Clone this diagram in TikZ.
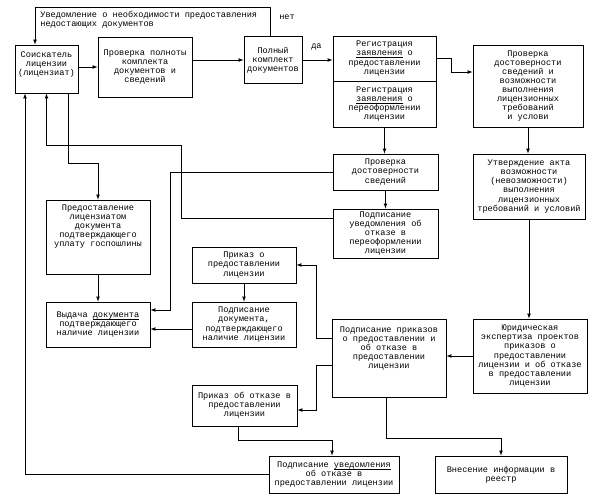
\documentclass[tikz,border=0pt]{standalone}
\usepackage{fontspec}
\newfontfamily\courfont{Liberation Mono}
\usetikzlibrary{arrows, calc, positioning}
\newcommand\ulword[1]{\underline{\smash{#1}}}

\begin{document}
\begin{tikzpicture}[>=latex, line width=0.7pt,
    box/.style={draw, line width=0.9pt, align=center, inner sep=1pt, font=\courfont\fontsize{8.6}{9.1}\selectfont},
    note/.style={inner sep=0pt, align=left, font=\courfont\fontsize{8.6}{9.1}\selectfont}]
    \useasboundingbox (-46.5pt,69pt) rectangle (549.5pt,-433pt);

    % top row
    \node[box, minimum width=63pt, minimum height=48pt] (soisk) {Соискатель\\лицензии\\(лицензиат)\\[2pt]\mbox{}};
    \node[box, right of=soisk, node distance=98.5pt, yshift=2pt, minimum width=94pt, minimum height=60pt] (proverka) {Проверка полноты\\комплекта\\документов и\\сведений};
    \node[box, right of=proverka, node distance=128pt, yshift=7pt, minimum width=58pt, minimum height=47pt] (polny) {Полный\\комплект\\документов};
    \node[box, right of=polny, node distance=111.5pt, yshift=1.5pt, minimum width=103pt, minimum height=45pt] (regpred) {Регистрация\\\ulword{заявления} о\\предоставлении\\лицензии};
    \node[box, below of=regpred, node distance=45.5pt, minimum width=103pt, minimum height=46pt] (regpere) {Регистрация\\\ulword{заявления} о\\переоформлении\\лицензии};
    \node[box, right of=regpred, node distance=143.5pt, yshift=-27.5pt, minimum width=110pt, minimum height=82pt] (dostvozm) {Проверка\\достоверности\\сведений и\\возможности\\выполнения\\лицензионных\\требований\\и услови};

    % middle
    \node[box, below of=regpere, node distance=68pt, xshift=1pt, minimum width=105pt, minimum height=36pt] (dostsved) {Проверка\\достоверности\\сведений};
    \node[box, below of=dostsved, node distance=61.5pt, minimum width=105pt, minimum height=49pt] (otkazpere) {Подписание\\уведомления об\\отказе в\\переоформлении\\лицензии};
    \node[box, below of=dostvozm, node distance=100.5pt, xshift=1pt, minimum width=112pt, minimum height=65pt] (akt) {Утверждение акта\\возможности\\(невозможности)\\выполнения\\лицензионных\\требований и условий};
    \node[box, below of=soisk, node distance=168pt, xshift=51.5pt, minimum width=104pt, minimum height=74pt] (gosposhl) {Предоставление\\лицензиатом\\документа\\подтверждающего\\уплату госпошлины\\[13pt]\mbox{}};
    \node[box, below of=gosposhl, node distance=87.5pt, minimum width=104pt, minimum height=45pt] (vydacha) {Выдача \ulword{документа}\\подтверждающего\\наличие лицензии};
    \node[box, right of=vydacha, node distance=146pt, yshift=59.5pt, minimum width=104pt, minimum height=36pt] (prikazpred) {Приказ о\\предоставлении\\лицензии};
    \node[box, right of=vydacha, node distance=146pt, minimum width=104pt, minimum height=45pt] (podpdok) {Подписание\\документа,\\подтверждающего\\наличие лицензии};

    % bottom
    \node[box, below of=otkazpere, node distance=124.5pt, xshift=3.5pt, minimum width=114pt, minimum height=78pt] (podpprik) {Подписание приказов\\о предоставлении и\\об отказе в\\предоставлении\\лицензии\\[12pt]\mbox{}};
    \node[box, below of=akt, node distance=169.5pt, xshift=1pt, minimum width=114pt, minimum height=74pt] (jurid) {Юридическая\\экспертиза проектов\\приказов о\\предоставлении\\лицензии и об отказе\\в предоставлении\\лицензии};
    \node[box, below of=podpdok, node distance=81pt, xshift=0.5pt, minimum width=105pt, minimum height=41pt] (prikazotk) {Приказ об отказе в\\предоставлении\\лицензии};
    \node[box, below of=podpprik, node distance=116.5pt, xshift=-55pt, minimum width=130pt, minimum height=37pt] (uvedotk) {Подписание \ulword{уведомления}\\об отказе в\\предоставлении лицензии};
    \node[box, below of=podpprik, node distance=116.5pt, xshift=112pt, minimum width=132pt, minimum height=37pt] (reestr) {Внесение информации в\\реестр};

    % labels
    \node[note, anchor=north west] (uvedtext) at ($(soisk.center)+(-6.5pt,58pt)$) {Уведомление о необходимости предоставления\\недостающих документов};
    \node[note] (net) at ($(polny.north)+(14pt,18.5pt)$) {нет};
    \node[note] (da) at ($(polny.east)+(14pt,13pt)$) {да};

    % connectors
    \draw[->] ([xshift=-3pt]polny.north) |- ($(soisk.north)+(-11.5pt,37pt)$) -- ([xshift=-11.5pt]soisk.north);
    \draw[->] (soisk.east |- proverka.west) -- (proverka.west);
    \draw[->] (proverka.east |- polny.west) -- (polny.west);
    \draw[->] (polny.east) -- (polny.east -| regpred.west);
    \draw[->] (regpred.east) -- ++(15pt,0) |- ([yshift=14pt]dostvozm.west);
    \draw[->] (regpere.south) -- (regpere.south |- dostsved.north);
    \draw[->] (dostvozm.south) -- (dostvozm.south |- akt.north);
    \draw[->] (dostsved.south) -- (otkazpere.north);
    \draw[->] (dostsved.west) -- ++(-162pt,0) |- ([yshift=14.5pt]vydacha.east);
    \draw[->] ([yshift=15pt]otkazpere.west) -| ++(-151pt,73pt) -| (soisk.south);
    \draw[->] ([xshift=21.5pt]soisk.south) -- ++(0,-70pt) -| (gosposhl.north);
    \draw[->] (gosposhl.south) -- (vydacha.north);
    \draw[->] (uvedotk.west) -| ([xshift=-21.5pt]soisk.south);
    \draw[->] ([yshift=20pt]podpprik.west) -- ++(-15pt,0) |- (prikazpred.east);
    \draw[->] (prikazpred.south) -- (podpdok.north);
    \draw[->] ([yshift=-4.5pt]podpdok.west) -- ([yshift=-4.5pt]vydacha.east);
    \draw[->] (jurid.west) -- (jurid.west -| podpprik.east);
    \draw[->] (akt.south) -- (akt.south |- jurid.north);
    \draw[->] ([yshift=-7pt]podpprik.west) -- ++(-15pt,0) |- ([yshift=-4.5pt]prikazotk.east);
    \draw[->] ([xshift=-6.5pt]prikazotk.south) -- ++(0,-14pt) -| ([xshift=-2pt]uvedotk.north);
    \draw[->] ([xshift=-3pt]podpprik.south) -- ++(0,-41pt) -| (reestr.north);
\end{tikzpicture}
\end{document}
